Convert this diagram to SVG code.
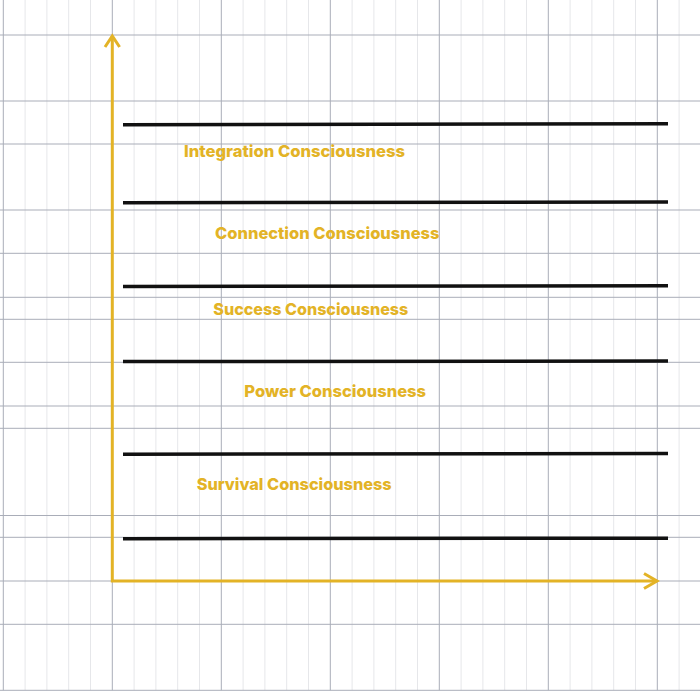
<svg xmlns="http://www.w3.org/2000/svg" width="700" height="700" viewBox="0 0 700 700">
<style>
.minor{stroke:#e6e7ea;stroke-width:1}
.major{stroke:#a9adb8;stroke-width:1}
.band{stroke:#111;stroke-width:3.5;stroke-linecap:butt}
.axis{stroke:#e3b326;stroke-width:3;fill:none;stroke-linecap:butt;stroke-linejoin:miter}
.lbl{font-family:"Inter","Liberation Sans",sans-serif;font-weight:800;font-size:16.5px;fill:#e3b326}
</style>
<rect width="700" height="700" fill="#ffffff"/>
<g id="grid">
<g class="minor">
<line x1="25.1" y1="0" x2="25.1" y2="690.3"/><line x1="46.9" y1="0" x2="46.9" y2="690.3"/><line x1="68.7" y1="0" x2="68.7" y2="690.3"/><line x1="90.5" y1="0" x2="90.5" y2="690.3"/>
<line x1="134.1" y1="0" x2="134.1" y2="690.3"/><line x1="155.9" y1="0" x2="155.9" y2="690.3"/><line x1="177.7" y1="0" x2="177.7" y2="690.3"/><line x1="199.5" y1="0" x2="199.5" y2="690.3"/>
<line x1="243.1" y1="0" x2="243.1" y2="690.3"/><line x1="264.9" y1="0" x2="264.9" y2="690.3"/><line x1="286.7" y1="0" x2="286.7" y2="690.3"/><line x1="308.5" y1="0" x2="308.5" y2="690.3"/>
<line x1="352.1" y1="0" x2="352.1" y2="690.3"/><line x1="373.9" y1="0" x2="373.9" y2="690.3"/><line x1="395.7" y1="0" x2="395.7" y2="690.3"/><line x1="417.5" y1="0" x2="417.5" y2="690.3"/>
<line x1="461.1" y1="0" x2="461.1" y2="690.3"/><line x1="482.9" y1="0" x2="482.9" y2="690.3"/><line x1="504.7" y1="0" x2="504.7" y2="690.3"/><line x1="526.5" y1="0" x2="526.5" y2="690.3"/>
<line x1="570.1" y1="0" x2="570.1" y2="690.3"/><line x1="591.9" y1="0" x2="591.9" y2="690.3"/><line x1="613.7" y1="0" x2="613.7" y2="690.3"/><line x1="635.5" y1="0" x2="635.5" y2="690.3"/>
<line x1="679.1" y1="0" x2="679.1" y2="690.3"/>
</g>
<g class="major">
<line x1="3.3" y1="0" x2="3.3" y2="690.3"/><line x1="112.3" y1="0" x2="112.3" y2="690.3"/><line x1="221.3" y1="0" x2="221.3" y2="690.3"/><line x1="330.3" y1="0" x2="330.3" y2="690.3"/>
<line x1="439.3" y1="0" x2="439.3" y2="690.3"/><line x1="548.3" y1="0" x2="548.3" y2="690.3"/><line x1="657.3" y1="0" x2="657.3" y2="690.3"/>
<line x1="0" y1="35" x2="700" y2="35"/><line x1="0" y1="101" x2="700" y2="101"/><line x1="0" y1="144" x2="700" y2="144"/><line x1="0" y1="210" x2="700" y2="210"/>
<line x1="0" y1="253.3" x2="700" y2="253.3"/><line x1="0" y1="297.3" x2="700" y2="297.3"/><line x1="0" y1="319.3" x2="700" y2="319.3"/><line x1="0" y1="362.3" x2="700" y2="362.3"/>
<line x1="0" y1="406" x2="700" y2="406"/><line x1="0" y1="428.3" x2="700" y2="428.3"/><line x1="0" y1="515.5" x2="700" y2="515.5"/><line x1="0" y1="537.3" x2="700" y2="537.3"/>
<line x1="0" y1="581" x2="700" y2="581"/><line x1="0" y1="624.3" x2="700" y2="624.3"/><line x1="0" y1="690.3" x2="700" y2="690.3"/>
</g>
</g>
<g id="bands">
<line class="band" x1="123" y1="124.7" x2="668" y2="123.8"/>
<line class="band" x1="123" y1="202.7" x2="668" y2="201.9"/>
<line class="band" x1="123" y1="286.4" x2="668" y2="285.7"/>
<line class="band" x1="123" y1="361.6" x2="668" y2="361"/>
<line class="band" x1="123" y1="454.2" x2="668" y2="453.5"/>
<line class="band" x1="123" y1="538.7" x2="668" y2="538.2"/>
</g>
<g id="connectors">
<path class="axis" d="M112.3,36 L112.3,581 L657,581"/>
<path class="axis" d="M105,47 L112.3,36 L119.6,47"/>
<path class="axis" d="M644,573.5 L657,581 L644,588.5"/>
</g>
<g id="integration"><text class="lbl" x="184" y="157" textLength="221" lengthAdjust="spacingAndGlyphs">Integration Consciousness</text></g>
<g id="connection"><text class="lbl" x="215" y="238.5" textLength="224.5" lengthAdjust="spacingAndGlyphs">Connection Consciousness</text></g>
<g id="success"><text class="lbl" x="213.3" y="315" textLength="195" lengthAdjust="spacingAndGlyphs">Success Consciousness</text></g>
<g id="power"><text class="lbl" x="244.3" y="396.5" textLength="181.7" lengthAdjust="spacingAndGlyphs">Power Consciousness</text></g>
<g id="survival"><text class="lbl" x="196.7" y="490" textLength="195" lengthAdjust="spacingAndGlyphs">Survival Consciousness</text></g>
</svg>
